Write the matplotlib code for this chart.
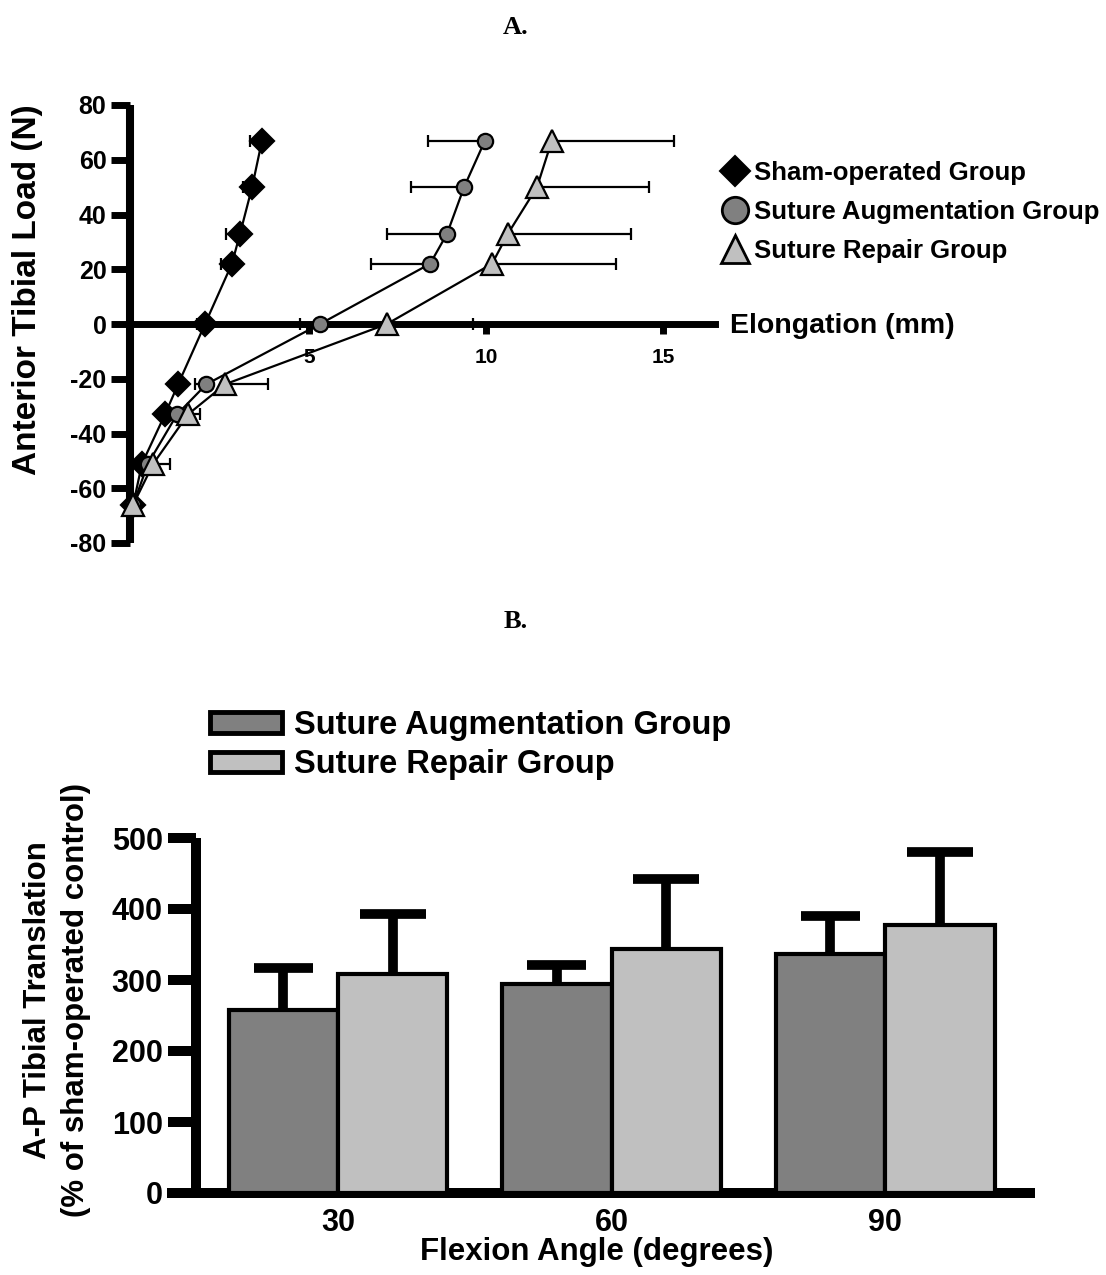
import numpy as np
import matplotlib
matplotlib.use("Agg")
import matplotlib.pyplot as plt
from matplotlib.lines import Line2D
from matplotlib.patches import Patch

plt.rcParams['font.family'] = ['Liberation Sans', 'DejaVu Sans']
plt.rcParams['font.weight'] = 'bold'

# ---------------- Panel A: load-elongation curves ----------------
load_n = [67, 50, 33, 22, 0, -22, -33, -51, -66]

sham_elong = [3.67, 3.39, 3.05, 2.82, 2.06, 1.30, 0.93, 0.28, 0.03]
sham_err = [0.34, 0.25, 0.39, 0.31, 0.22, 0, 0, 0, 0]          # drawn toward lower elongation

aug_elong = [9.97, 9.38, 8.90, 8.42, 5.31, 2.10, 1.27, 0.45, 0.03]
aug_err = [1.61, 1.50, 1.70, 1.67, 0.56, 0.32, 0, 0, 0]         # drawn toward lower elongation

rep_elong = [11.86, 11.44, 10.62, 10.17, 7.20, 2.63, 1.58, 0.60, 0.03]
rep_err = [3.44, 3.16, 3.48, 3.50, 2.43, 1.21, 0.34, 0.47, 0]   # drawn toward higher elongation

group_names_a = ["Sham-operated Group", "Suture Augmentation Group", "Suture Repair Group"]
y_ticks_a = [-80, -60, -40, -20, 0, 20, 40, 60, 80]
x_ticks_a = [5, 10, 15]

# ---------------- Panel B: A-P translation bars ----------------
flexion_angles = ["30", "60", "90"]
aug_pct = [258, 294, 336]
aug_pct_err = [59, 27, 54]
rep_pct = [309, 344, 378]
rep_pct_err = [84, 98, 102]
group_names_b = ["Suture Augmentation Group", "Suture Repair Group"]
y_ticks_b = [0, 100, 200, 300, 400, 500]

DARK = "#808080"
LIGHT = "#c0c0c0"

W, H = 1106, 1275
fig = plt.figure(figsize=(W / 100, H / 100), dpi=100)


def fbox(x0, y0, x1, y1):
    """Pixel box (top-left origin) -> figure-fraction rect."""
    return [x0 / W, 1 - y1 / H, (x1 - x0) / W, (y1 - y0) / H]


# ---------- Panel A ----------
ax1 = fig.add_axes(fbox(130, 105, 715, 543))
ax1.set_xlim(-0.06, 16.47)
ax1.set_ylim(-80, 80)
for s in ("top", "right"):
    ax1.spines[s].set_visible(False)
ax1.spines["left"].set_linewidth(5.8)
ax1.spines["bottom"].set_linewidth(5.0)
ax1.spines["bottom"].set_position(("data", 0))
ax1.spines["left"].set_capstyle("butt")
ax1.set_yticks(y_ticks_a)
ax1.set_yticklabels([str(v) for v in y_ticks_a], fontsize=18, fontweight="bold")
ax1.set_xticks(x_ticks_a)
ax1.set_xticklabels([str(v) for v in x_ticks_a], fontsize=15, fontweight="bold")
ax1.tick_params(axis="y", direction="out", length=14, width=5, pad=3)
ax1.tick_params(axis="x", direction="out", length=7, width=5, pad=10)

zeros = np.zeros(len(load_n))
series = [
    (sham_elong, [sham_err, zeros], "D", "black", 12.5),
    (aug_elong, [aug_err, zeros], "o", DARK, 11),
    (rep_elong, [zeros, rep_err], "^", LIGHT, 15.5),
]
for i, (xs, xerr, mk, fc, ms) in enumerate(series):
    z = 3 + i * 2
    ax1.errorbar(xs, load_n, xerr=np.array(xerr), fmt="none", ecolor="black",
                 elinewidth=1.6, capsize=4.5, capthick=1.6, zorder=z, clip_on=False)
    ax1.plot(xs, load_n, color="black", lw=1.6, marker=mk, markersize=ms,
             markerfacecolor=fc, markeredgecolor="black", markeredgewidth=1.6,
             zorder=z + 1, clip_on=False)

fig.text(730 / W, 1 - 326 / H, "Elongation (mm)", fontsize=20.5, fontweight="bold",
         ha="left", va="center")
fig.text(28 / W, 1 - 290 / H, "Anterior Tibial Load (N)", fontsize=24,
         fontweight="bold", rotation=90, ha="center", va="center")

handles_a = [
    Line2D([], [], ls="none", marker="D", ms=15.5, mfc="black", mec="black", mew=1.5),
    Line2D([], [], ls="none", marker="o", ms=19, mfc=DARK, mec="black", mew=2),
    Line2D([], [], ls="none", marker="^", ms=20, mfc=LIGHT, mec="black", mew=2),
]
fig.legend(handles_a, group_names_a, loc="upper left",
           bbox_to_anchor=(708 / W, 1 - 148 / H), frameon=False,
           prop={"size": 18.5, "weight": "bold"}, handlelength=1.1,
           handletextpad=0.2, labelspacing=0.58, borderpad=0)

fig.text(516 / W, 1 - 27 / H, "A.", family="Liberation Serif", fontsize=19,
         fontweight="bold", ha="center", va="center")
fig.text(516 / W, 1 - 622 / H, "B.", family="Liberation Serif", fontsize=19,
         fontweight="bold", ha="center", va="center")

# ---------- Panel B ----------
ax2 = fig.add_axes(fbox(167, 838, 1035, 1193))
ax2.set_xlim(0.375, 3.548)
ax2.set_ylim(0, 500)
pos = np.arange(1, len(flexion_angles) + 1)
bw = 0.40
for s in ("top", "right"):
    ax2.spines[s].set_visible(False)
ax2.spines["left"].set_position(("data", 0.481))
ax2.spines["left"].set_linewidth(7.2)
ax2.spines["bottom"].set_linewidth(7.2)
ax2.spines["left"].set_capstyle("butt")
ax2.spines["bottom"].set_capstyle("butt")

ax2.bar(pos, aug_pct, width=-bw, align="edge", color=DARK, edgecolor="black",
        linewidth=3, zorder=3)
ax2.bar(pos, rep_pct, width=bw, align="edge", color=LIGHT, edgecolor="black",
        linewidth=3, zorder=3)

# upper-only error bars: stem from bar top to cap
for centers, vals, errs, half in ((pos - bw / 2, aug_pct, aug_pct_err, 0.108),
                                  (pos + bw / 2, rep_pct, rep_pct_err, 0.12)):
    tops = np.array(vals) + np.array(errs)
    ax2.vlines(centers, vals, tops, color="black", lw=7, zorder=2)
    ax2.hlines(tops, centers - half, centers + half, color="black", lw=7, zorder=2)

ax2.set_yticks(y_ticks_b)
ax2.set_yticklabels([str(v) for v in y_ticks_b], fontsize=22, fontweight="bold")
ax2.tick_params(axis="y", direction="out", length=20, width=7.2, pad=4)
ax2.set_xticks(pos)
ax2.set_xticklabels(flexion_angles, fontsize=22, fontweight="bold")
ax2.tick_params(axis="x", length=0, pad=11)

fig.text(597 / W, 1 - 1252 / H, "Flexion Angle (degrees)", fontsize=22.5,
         fontweight="bold", ha="center", va="center")
fig.text(38 / W, 1 - 1000 / H, "A-P Tibial Translation", fontsize=22.5,
         fontweight="bold", rotation=90, ha="center", va="center")
fig.text(76 / W, 1 - 1000 / H, "(% of sham-operated control)", fontsize=22.5,
         fontweight="bold", rotation=90, ha="center", va="center")

handles_b = [Patch(facecolor=DARK, edgecolor="black", linewidth=3.5),
             Patch(facecolor=LIGHT, edgecolor="black", linewidth=3.5)]
fig.legend(handles_b, group_names_b, loc="upper left",
           bbox_to_anchor=(194 / W, 1 - 694 / H), frameon=False,
           prop={"size": 23.5, "weight": "bold"}, handlelength=2.2,
           handleheight=0.6, handletextpad=0.35, labelspacing=0.25, borderpad=0)

fig.savefig("out.png", dpi=100)
